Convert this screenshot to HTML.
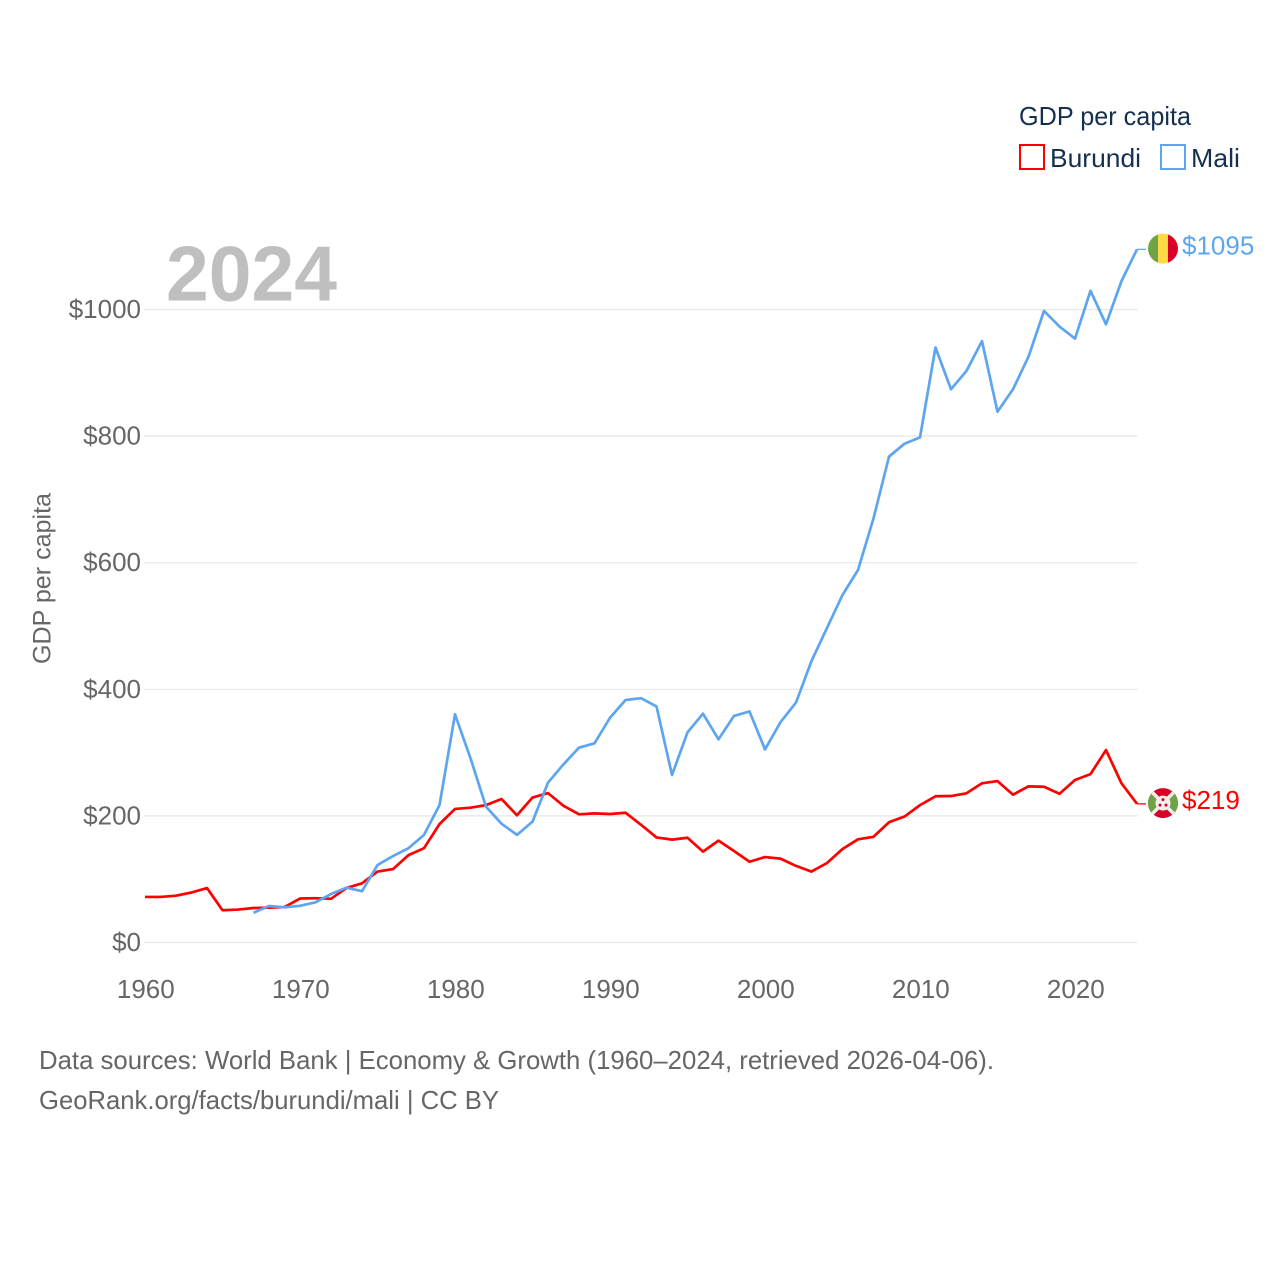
<!DOCTYPE html>
<html lang="en">
<head>
<meta charset="utf-8">
<title>GDP per capita: Burundi and Mali</title>
<style>
  html, body { margin: 0; padding: 0; background: #ffffff; }
  svg { display: block; }
  text { font-family: "Liberation Sans", sans-serif; }
</style>
</head>
<body>
<svg id="chart" xmlns="http://www.w3.org/2000/svg" width="1280" height="1280" viewBox="0 0 1280 1280">
  <defs>
    <clipPath id="flag-clip-mali"><circle cx="1163" cy="248.5" r="15"></circle></clipPath>
    <clipPath id="flag-clip-burundi"><circle cx="1163" cy="803" r="15"></circle></clipPath>
  </defs>
  <rect x="0" y="0" width="1280" height="1280" fill="#ffffff"></rect>

  <g id="grid"></g>
  <g id="y-ticks"></g>
  <g id="x-ticks"></g>

  <text x="251.5" y="300.5" text-anchor="middle" font-size="78" font-weight="700" fill="#bfbfbf" textLength="171" lengthAdjust="spacingAndGlyphs">2024</text>

  <text transform="translate(50.5 578.5) rotate(-90)" text-anchor="middle" font-size="25" fill="#666666" textLength="171" lengthAdjust="spacingAndGlyphs">GDP per capita</text>

  <g id="series"></g>
  <g id="end-labels"></g>

  <g id="flag-mali">
    <g clip-path="url(#flag-clip-mali)">
      <rect x="1148" y="233" width="10" height="31" fill="#6da544"></rect>
      <rect x="1158" y="233" width="10" height="31" fill="#ffda44"></rect>
      <rect x="1168" y="233" width="10" height="31" fill="#d80027"></rect>
    </g>
  </g>
  <g id="flag-burundi">
    <g clip-path="url(#flag-clip-burundi)">
      <rect x="1148" y="788" width="30" height="30" fill="#d80027"></rect>
      <polygon points="1148,788 1163,803 1148,818" fill="#6da544"></polygon>
      <polygon points="1178,788 1163,803 1178,818" fill="#6da544"></polygon>
      <line x1="1148" y1="788" x2="1178" y2="818" stroke="#f0f0f0" stroke-width="3.5"></line>
      <line x1="1178" y1="788" x2="1148" y2="818" stroke="#f0f0f0" stroke-width="3.5"></line>
      <circle cx="1163" cy="803" r="7.5" fill="#f0f0f0"></circle>
      <circle cx="1163" cy="799.5" r="1.5" fill="#d80027"></circle>
      <circle cx="1160" cy="805" r="1.5" fill="#d80027"></circle>
      <circle cx="1166" cy="805" r="1.5" fill="#d80027"></circle>
    </g>
  </g>

  <g id="legend">
    <text x="1019" y="125" font-size="26" fill="#15304f" textLength="172" lengthAdjust="spacingAndGlyphs">GDP per capita</text>
    <g>
      <rect x="1020" y="145" width="24" height="24" fill="none" stroke="#ff0000" stroke-width="2"></rect>
      <text x="1050" y="167" font-size="26" fill="#15304f" textLength="91" lengthAdjust="spacingAndGlyphs">Burundi</text>
    </g>
    <g>
      <rect x="1161" y="145" width="24" height="24" fill="none" stroke="#5da5ee" stroke-width="2"></rect>
      <text x="1191" y="167" font-size="26" fill="#15304f" textLength="49" lengthAdjust="spacingAndGlyphs">Mali</text>
    </g>
  </g>

  <text x="39" y="1069" font-size="26" fill="#666666" textLength="955" lengthAdjust="spacingAndGlyphs">Data sources: World Bank | Economy &amp; Growth (1960–2024, retrieved 2026-04-06).</text>
  <text x="39" y="1109" font-size="26" fill="#666666" textLength="460" lengthAdjust="spacingAndGlyphs">GeoRank.org/facts/burundi/mali | CC BY</text>
</svg>

<script>
const startYear = 1960;
const endYear = 2024;
const xTickLabels = [1960, 1970, 1980, 1990, 2000, 2010, 2020];
const yTickLabels = [0, 200, 400, 600, 800, 1000];
const burundiValues = [72, 72, 74, 79, 86, 51, 52, 54.5, 55, 56, 69.5, 70, 69, 86, 93.5, 112, 116, 138, 149, 187, 211, 213, 217, 226.7, 201, 229, 236, 216, 202.5, 204, 203, 205, 186, 166, 162.5, 165.5, 143.5, 161, 144.5, 127.6, 135, 132.5, 121, 112, 125.6, 147.7, 163, 167, 190, 199, 217, 231, 231.4, 235.7, 251.5, 255, 233.5, 246.7, 246, 235, 256.7, 266, 304, 251.5, 219];
const maliStartYear = 1967;
const maliValues = [47, 57.7, 55.6, 58, 63.5, 76.6, 86.6, 81, 122.4, 136.6, 149, 170, 217, 360.5, 291, 214.5, 187.7, 170, 191, 252.5, 281.5, 307.7, 314.7, 355, 383, 386, 373, 264.6, 332, 361.5, 321, 358, 365, 305, 348, 379, 444.7, 497, 549, 588.5, 670, 767.5, 788, 798, 940, 874, 903, 950, 838.5, 874, 925.5, 997.7, 973, 954, 1029.5, 976.6, 1045, 1095];

const SVG_NS = 'http://www.w3.org/2000/svg';
const plotLeft = 145, plotRight = 1137, plotBottom = 942.5, plotTop = 309.5;
const xScale = function (year) { return plotLeft + (year - startYear) * (plotRight - plotLeft) / (endYear - startYear); };
const yScale = function (value) { return plotBottom + value * (plotTop - plotBottom) / 1000; };
const make = function (tag, attrs) {
  const el = document.createElementNS(SVG_NS, tag);
  Object.keys(attrs).forEach(function (k) { el.setAttribute(k, attrs[k]); });
  return el;
};

const grid = document.getElementById('grid');
const yTicks = document.getElementById('y-ticks');
yTickLabels.forEach(function (v) {
  const line = make('line', { x1: 144, x2: plotRight + 0.5, y1: yScale(v), y2: yScale(v), stroke: '#e6e6e6', 'stroke-width': 1.2 });
  
  
  grid.appendChild(line);
  const label = make('text', { x: 141, y: yScale(v) + 8.5, 'text-anchor': 'end', 'font-size': 26, fill: '#666666' });
  
  
  label.textContent = '$' + v;
  yTicks.appendChild(label);
});

const xTicks = document.getElementById('x-ticks');
xTickLabels.forEach(function (year) {
  const label = make('text', { x: xScale(year) + 0.8, y: 998, 'text-anchor': 'middle', 'font-size': 26, fill: '#666666' });
  
  
  label.textContent = String(year);
  xTicks.appendChild(label);
});

const series = document.getElementById('series');
const endLabels = document.getElementById('end-labels');
const drawSeries = function (values, firstYear, color, key) {
  const pts = values.map(function (v, i) { return xScale(firstYear + i).toFixed(2) + ',' + yScale(v).toFixed(2); }).join(' ');
  const line = make('polyline', { points: pts, fill: 'none', stroke: color, 'stroke-width': 2.7, 'stroke-linejoin': 'round' });
  
  
  series.appendChild(line);

  const last = values[values.length - 1];
  const lastY = yScale(last);
  const connector = make('line', { x1: plotRight, x2: 1146, y1: lastY, y2: lastY, stroke: color, 'stroke-width': 1.3 });
  
  
  endLabels.appendChild(connector);

  const label = make('text', { x: 1182, y: lastY + 5.2, 'font-size': 26, fill: color });
  
  
  label.textContent = '$' + Math.round(last);
  endLabels.appendChild(label);
  return lastY;
};

const burundiEndY = drawSeries(burundiValues, startYear, '#ff0000', 'burundi');
const maliEndY = drawSeries(maliValues, maliStartYear, '#5da5ee', 'mali');

document.getElementById('flag-mali').setAttribute('transform', 'translate(0 ' + (maliEndY - 0.8 - 248.5) + ')');
document.getElementById('flag-burundi').setAttribute('transform', 'translate(0 ' + (burundiEndY - 0.8 - 803) + ')');
</script>
</body>
</html>
